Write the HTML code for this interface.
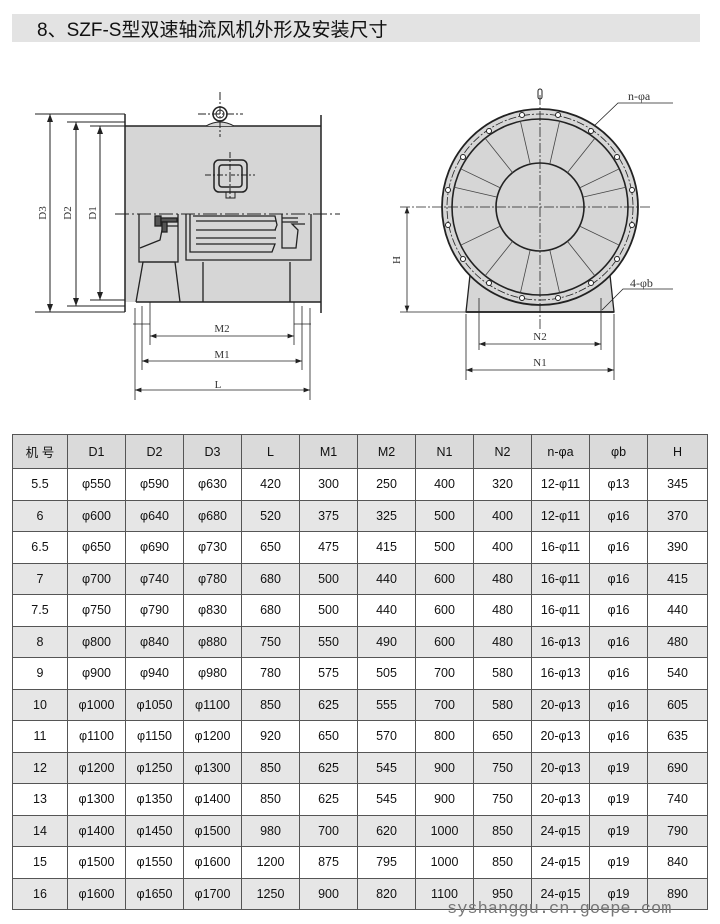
<!DOCTYPE html><html><head><meta charset="utf-8"><style>
body{margin:0;width:720px;height:924px;background:#fff;overflow:hidden;position:relative;font-family:"Liberation Sans","Noto Sans CJK SC",sans-serif}
.title{position:absolute;left:12px;top:14px;width:688px;height:28px;background:#e3e3e3}
.title span{position:absolute;left:25px;top:1px;font-size:19px;color:#111}
table{position:absolute;left:12px;top:434px;border-collapse:collapse;font-size:12.5px;color:#111}
td{border:1px solid #555;text-align:center;height:30.5px;padding:0;width:57px}
tr:first-child td{height:33px;background:#dcdcdc}
tr:nth-child(odd) td{background:#e6e6e6}
tr:first-child td{background:#dadada}
td:first-child{width:54px}
td:last-child{width:59px}
.wm{position:absolute;left:447px;top:900px;font-family:"Liberation Mono",monospace;font-size:17px;color:#777}
</style></head><body>
<div class="title"><span>8、SZF-S型双速轴流风机外形及安装尺寸</span></div>
<svg width="720" height="430" style="position:absolute;left:0;top:0" font-family="Liberation Serif,serif" font-size="11" fill="none" stroke="#222" stroke-width="1">
<defs><marker id="a" markerWidth="8" markerHeight="6" refX="8" refY="3" orient="auto-start-reverse"><path d="M0,0L8,3L0,6z" fill="#222" stroke="none"/></marker></defs>
<rect x="125" y="126" width="196" height="176" fill="#d6d6d6" stroke="none"/>
<line x1="125" y1="114" x2="125" y2="312" stroke-width="1.5"/>
<line x1="321" y1="115" x2="321" y2="313" stroke-width="1.5"/>
<line x1="125" y1="126" x2="321" y2="126" stroke-width="1.5"/>
<line x1="136" y1="302" x2="321" y2="302" stroke-width="1.5"/>
<line x1="35" y1="114" x2="125" y2="114"/><line x1="67" y1="122" x2="125" y2="122"/><line x1="90" y1="126" x2="125" y2="126"/>
<line x1="90" y1="300" x2="125" y2="300"/><line x1="67" y1="306" x2="125" y2="306"/><line x1="35" y1="312" x2="125" y2="312"/>
<line x1="50" y1="114" x2="50" y2="312" marker-start="url(#a)" marker-end="url(#a)"/>
<line x1="76" y1="122" x2="76" y2="306" marker-start="url(#a)" marker-end="url(#a)"/>
<line x1="100" y1="126" x2="100" y2="300" marker-start="url(#a)" marker-end="url(#a)"/>
<g fill="#333" stroke="none"><text transform="translate(46,213) rotate(-90)" text-anchor="middle">D3</text><text transform="translate(71,213) rotate(-90)" text-anchor="middle">D2</text><text transform="translate(96,213) rotate(-90)" text-anchor="middle">D1</text></g>
<line x1="115" y1="214" x2="340" y2="214" stroke-dasharray="14,3,2,3"/>
<path d="M206,126 Q220,118 234,126" fill="#d6d6d6"/>
<circle cx="220" cy="114" r="7" fill="#fff" stroke-width="1.5"/><circle cx="220" cy="114" r="4"/>
<line x1="220" y1="92" x2="220" y2="137" stroke-dasharray="8,2,2,2"/><line x1="198" y1="114" x2="243" y2="114" stroke-dasharray="8,2,2,2"/>
<rect x="214" y="160" width="33" height="32" rx="5" stroke-width="1.5"/><rect x="219" y="165" width="23" height="22" rx="3" stroke-width="1.5"/>
<rect x="226" y="192" width="9" height="6"/>
<line x1="230" y1="152" x2="230" y2="200" stroke-dasharray="6,2,2,2"/><line x1="205" y1="175" x2="255" y2="175" stroke-dasharray="6,2,2,2"/>
<g stroke-width="1.3">
<path d="M139,214V262H178V214"/><path d="M140,248L160,240L162,230L165,226H178"/>
<rect x="155" y="216" width="6" height="10" fill="#555"/><rect x="161" y="218" width="16" height="4" fill="#555"/><rect x="162" y="222" width="5" height="10" fill="#555"/>
<path d="M186,214V260H311V214"/><path d="M190,214V252H196"/>
<path d="M193,216H275L277,225L275,230M196,221H276M196,230H276M196,238H276M196,244H275L272,252H196"/>
<path d="M282,214V248H296L298,230L292,224H305M282,218H298M282,222H298"/>
<path d="M136,302L143,262H175L180,302M203,262V302M290,262V302"/>
</g>
<g stroke-width="0.8"><line x1="135" y1="308" x2="135" y2="400"/><line x1="310" y1="308" x2="310" y2="400"/>
<line x1="142" y1="306" x2="142" y2="370"/><line x1="302" y1="306" x2="302" y2="370"/>
<line x1="150" y1="302" x2="150" y2="345"/><line x1="294" y1="302" x2="294" y2="345"/>
<line x1="150" y1="336" x2="294" y2="336" marker-start="url(#a)" marker-end="url(#a)"/>
<line x1="142" y1="361" x2="302" y2="361" marker-start="url(#a)" marker-end="url(#a)"/>
<line x1="135" y1="390" x2="310" y2="390" marker-start="url(#a)" marker-end="url(#a)"/>
<line x1="133" y1="324" x2="150" y2="324"/><line x1="294" y1="324" x2="311" y2="324"/></g>
<g fill="#333" stroke="none" text-anchor="middle"><text x="222" y="332">M2</text><text x="222" y="358">M1</text><text x="218" y="388">L</text></g>
<path d="M470,275L466,312H614L610,275Z" fill="#d6d6d6" stroke-width="1.3"/>
<line x1="466" y1="312" x2="614" y2="312" stroke-width="1.8"/>
<circle cx="540" cy="207" r="98" fill="#d6d6d6" stroke-width="1.8"/>
<circle cx="540" cy="207" r="93" stroke-dasharray="8,2,2,2" stroke-width="0.8"/>
<circle cx="540" cy="207" r="88" stroke-width="1.6"/>
<circle cx="540" cy="207" r="44" stroke-width="1.6"/>
<g stroke-width="0.8" stroke="#444">
<line x1="540" y1="163" x2="540" y2="119" transform="rotate(12.86 540 207)"/><line x1="540" y1="163" x2="540" y2="119" transform="rotate(38.57 540 207)"/><line x1="540" y1="163" x2="540" y2="119" transform="rotate(64.29 540 207)"/>
<line x1="540" y1="163" x2="540" y2="119" transform="rotate(-12.86 540 207)"/><line x1="540" y1="163" x2="540" y2="119" transform="rotate(-38.57 540 207)"/><line x1="540" y1="163" x2="540" y2="119" transform="rotate(-64.29 540 207)"/>
<line x1="540" y1="163" x2="540" y2="119" transform="rotate(167.14 540 207)"/><line x1="540" y1="163" x2="540" y2="119" transform="rotate(141.43 540 207)"/><line x1="540" y1="163" x2="540" y2="119" transform="rotate(115.71 540 207)"/>
<line x1="540" y1="163" x2="540" y2="119" transform="rotate(-167.14 540 207)"/><line x1="540" y1="163" x2="540" y2="119" transform="rotate(-141.43 540 207)"/><line x1="540" y1="163" x2="540" y2="119" transform="rotate(-115.71 540 207)"/>
<line x1="540" y1="163" x2="540" y2="119" transform="rotate(77 540 207)"/><line x1="540" y1="163" x2="540" y2="119" transform="rotate(-77 540 207)"/>
</g>
<g fill="#fff" stroke-width="1">
<circle cx="558" cy="115" r="2.5"/><circle cx="522" cy="115" r="2.5"/><circle cx="591" cy="131" r="2.5"/><circle cx="489" cy="131" r="2.5"/>
<circle cx="617" cy="157" r="2.5"/><circle cx="463" cy="157" r="2.5"/><circle cx="632" cy="190" r="2.5"/><circle cx="448" cy="190" r="2.5"/>
<circle cx="632" cy="225" r="2.5"/><circle cx="448" cy="225" r="2.5"/><circle cx="617" cy="259" r="2.5"/><circle cx="463" cy="259" r="2.5"/>
<circle cx="591" cy="283" r="2.5"/><circle cx="489" cy="283" r="2.5"/><circle cx="558" cy="298" r="2.5"/><circle cx="522" cy="298" r="2.5"/>
</g>
<rect x="538" y="89" width="4" height="10" rx="2" fill="#fff"/>
<line x1="540" y1="95" x2="540" y2="330" stroke-dasharray="10,2,2,2" stroke-width="0.8"/>
<line x1="400" y1="207" x2="652" y2="207" stroke-dasharray="10,2,2,2" stroke-width="0.8"/>
<line x1="400" y1="312" x2="466" y2="312" stroke-width="0.8"/>
<line x1="407" y1="207" x2="407" y2="312" stroke-width="0.8" marker-start="url(#a)" marker-end="url(#a)"/>
<text transform="translate(400,260) rotate(-90)" text-anchor="middle" fill="#333" stroke="none">H</text>
<line x1="479" y1="298" x2="479" y2="350" stroke-width="0.8"/><line x1="601" y1="298" x2="601" y2="350" stroke-width="0.8"/>
<line x1="466" y1="314" x2="466" y2="380" stroke-width="0.8"/><line x1="614" y1="314" x2="614" y2="380" stroke-width="0.8"/>
<line x1="479" y1="344" x2="601" y2="344" stroke-width="0.8" marker-start="url(#a)" marker-end="url(#a)"/>
<line x1="466" y1="370" x2="614" y2="370" stroke-width="0.8" marker-start="url(#a)" marker-end="url(#a)"/>
<g fill="#333" stroke="none" text-anchor="middle"><text x="540" y="340">N2</text><text x="540" y="366">N1</text></g>
<path d="M594,126L618,103H673" stroke-width="0.8"/><path d="M602,310L623,289H673" stroke-width="0.8"/>
<g fill="#333" stroke="none" font-size="12"><text x="628" y="100">n-φa</text><text x="630" y="287">4-φb</text></g>
</svg>
<table>
<tr><td>机 号</td><td>D1</td><td>D2</td><td>D3</td><td>L</td><td>M1</td><td>M2</td><td>N1</td><td>N2</td><td>n-φa</td><td>φb</td><td>H</td></tr>
<tr><td>5.5</td><td>φ550</td><td>φ590</td><td>φ630</td><td>420</td><td>300</td><td>250</td><td>400</td><td>320</td><td>12-φ11</td><td>φ13</td><td>345</td></tr>
<tr><td>6</td><td>φ600</td><td>φ640</td><td>φ680</td><td>520</td><td>375</td><td>325</td><td>500</td><td>400</td><td>12-φ11</td><td>φ16</td><td>370</td></tr>
<tr><td>6.5</td><td>φ650</td><td>φ690</td><td>φ730</td><td>650</td><td>475</td><td>415</td><td>500</td><td>400</td><td>16-φ11</td><td>φ16</td><td>390</td></tr>
<tr><td>7</td><td>φ700</td><td>φ740</td><td>φ780</td><td>680</td><td>500</td><td>440</td><td>600</td><td>480</td><td>16-φ11</td><td>φ16</td><td>415</td></tr>
<tr><td>7.5</td><td>φ750</td><td>φ790</td><td>φ830</td><td>680</td><td>500</td><td>440</td><td>600</td><td>480</td><td>16-φ11</td><td>φ16</td><td>440</td></tr>
<tr><td>8</td><td>φ800</td><td>φ840</td><td>φ880</td><td>750</td><td>550</td><td>490</td><td>600</td><td>480</td><td>16-φ13</td><td>φ16</td><td>480</td></tr>
<tr><td>9</td><td>φ900</td><td>φ940</td><td>φ980</td><td>780</td><td>575</td><td>505</td><td>700</td><td>580</td><td>16-φ13</td><td>φ16</td><td>540</td></tr>
<tr><td>10</td><td>φ1000</td><td>φ1050</td><td>φ1100</td><td>850</td><td>625</td><td>555</td><td>700</td><td>580</td><td>20-φ13</td><td>φ16</td><td>605</td></tr>
<tr><td>11</td><td>φ1100</td><td>φ1150</td><td>φ1200</td><td>920</td><td>650</td><td>570</td><td>800</td><td>650</td><td>20-φ13</td><td>φ16</td><td>635</td></tr>
<tr><td>12</td><td>φ1200</td><td>φ1250</td><td>φ1300</td><td>850</td><td>625</td><td>545</td><td>900</td><td>750</td><td>20-φ13</td><td>φ19</td><td>690</td></tr>
<tr><td>13</td><td>φ1300</td><td>φ1350</td><td>φ1400</td><td>850</td><td>625</td><td>545</td><td>900</td><td>750</td><td>20-φ13</td><td>φ19</td><td>740</td></tr>
<tr><td>14</td><td>φ1400</td><td>φ1450</td><td>φ1500</td><td>980</td><td>700</td><td>620</td><td>1000</td><td>850</td><td>24-φ15</td><td>φ19</td><td>790</td></tr>
<tr><td>15</td><td>φ1500</td><td>φ1550</td><td>φ1600</td><td>1200</td><td>875</td><td>795</td><td>1000</td><td>850</td><td>24-φ15</td><td>φ19</td><td>840</td></tr>
<tr><td>16</td><td>φ1600</td><td>φ1650</td><td>φ1700</td><td>1250</td><td>900</td><td>820</td><td>1100</td><td>950</td><td>24-φ15</td><td>φ19</td><td>890</td></tr>
</table>
<div class="wm">syshanggu.cn.goepe.com</div>
</body></html>
